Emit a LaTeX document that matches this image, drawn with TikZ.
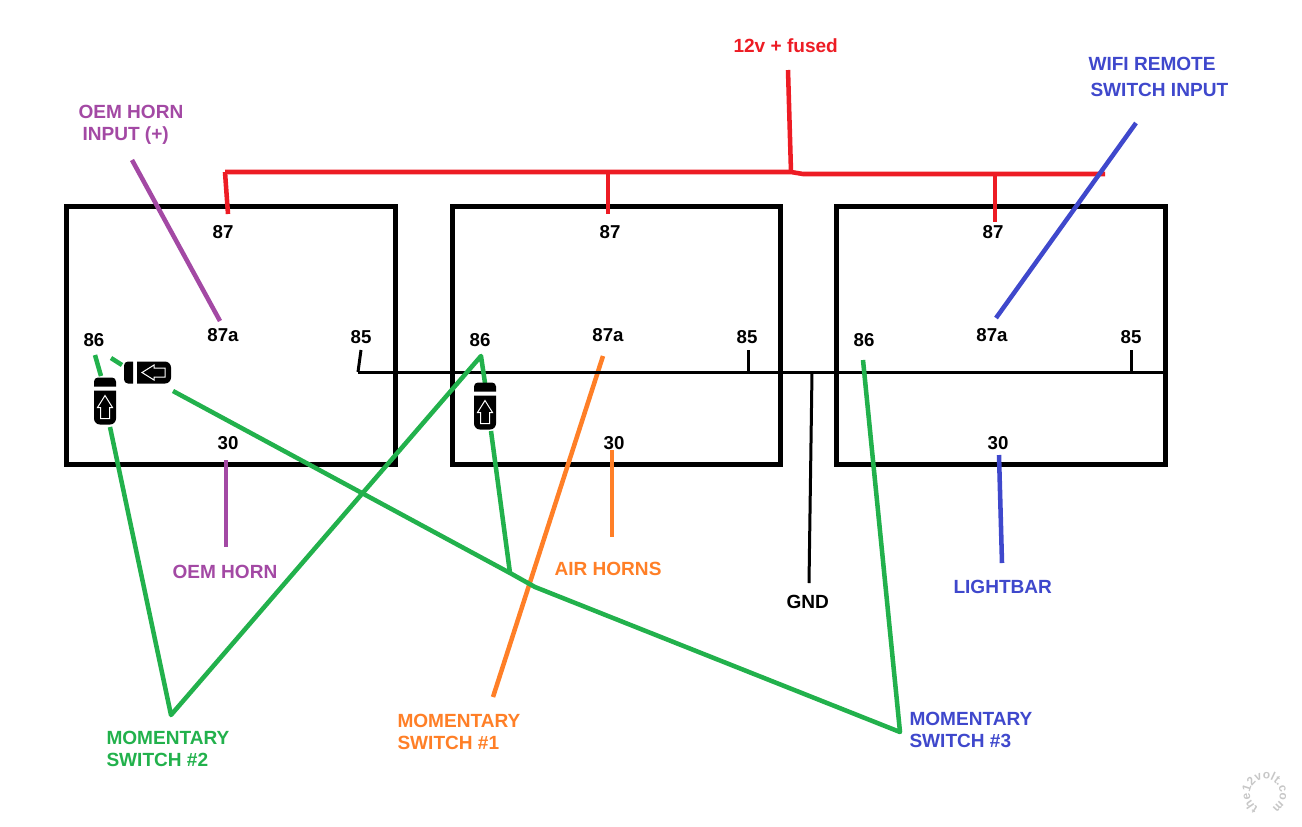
\documentclass[tikz,border=0pt]{standalone}
\usepackage{fontspec}
\setmainfont{Liberation Sans}
\usetikzlibrary{decorations.text}

\definecolor{wirered}{RGB}{237,28,36}
\definecolor{wireblue}{RGB}{63,72,204}
\definecolor{wiregreen}{RGB}{34,177,76}
\definecolor{wireorange}{RGB}{255,127,39}
\definecolor{wirepurple}{RGB}{163,73,164}

\tikzset{
  every picture/.style={line width=0.75pt},
  relaybox/.style={draw=black,line width=3.75pt,inner sep=0pt},
  pinlabel/.style={font=\fontsize{14pt}{16pt}\bfseries,inner sep=0.75pt,text=black},
  wirelabel/.style={font=\fontsize{14.3pt}{16.5pt}\bfseries,inner sep=0.75pt,anchor=west,align=left},
  wire/.style={line width=3.4pt,line join=round},
  gndwire/.style={line width=2.25pt},
  pushbutton/.pic={
    \fill[black] (-11,21) -- (11,21) -- (11,26) arc[start angle=0,end angle=90,radius=4] -- (-7,30) arc[start angle=90,end angle=180,radius=4] -- cycle;
    \fill[black] (-11,17) -- (11,17) -- (11,-11) arc[start angle=0,end angle=-90,radius=6] -- (-5,-17) arc[start angle=270,end angle=180,radius=6] -- cycle;
    \draw[white,line width=0.75pt] (0,12) -- (7.5,0) -- (4.5,0) -- (4.5,-11) -- (-4.5,-11) -- (-4.5,0) -- (-7.5,0) -- cycle;
  }
}

\begin{document}
\begin{tikzpicture}[x=0.75pt,y=0.75pt,yscale=-1,xscale=1]
\useasboundingbox (0,0) rectangle (1302,826);

%Relay boxes
\foreach \boxname/\xa/\xb in {relayA/66/395,relayB/452/780,relayC/836/1165}
  \draw[relaybox] (\xa,206) rectangle (\xb,464);

% Text Node
\node[pinlabel] (pinAe) at (223,232) {87};
\node[pinlabel] (pinBe) at (610,232) {87};
\node[pinlabel] (pinCe) at (993,232) {87};
\node[pinlabel] (pinAa) at (223,335) {87a};
\node[pinlabel] (pinBa) at (608,335) {87a};
\node[pinlabel] (pinCa) at (992,335) {87a};
\node[pinlabel] (pinAf) at (361,337) {85};
\node[pinlabel] (pinBf) at (747,337) {85};
\node[pinlabel] (pinCf) at (1131,337) {85};
\node[pinlabel] (pinAs) at (94,340) {86};
\node[pinlabel] (pinBs) at (480,340) {86};
\node[pinlabel] (pinCs) at (864,340) {86};
\node[pinlabel] (pinAt) at (228,443) {30};
\node[pinlabel] (pinBt) at (614,443) {30};
\node[pinlabel] (pinCt) at (998,443) {30};

% Text Node
\node[wirelabel,text=wirered] (fused) at (732,46) {12v + fused};
\node[wirelabel,text=wireblue] (wifiA) at (1087,64) {WIFI REMOTE};
\node[wirelabel,text=wireblue] (wifiB) at (1089,90) {SWITCH INPUT};
\node[wirelabel,text=wirepurple] (oemA) at (77,112) {OEM HORN};
\node[wirelabel,text=wirepurple] (oemB) at (81,136) {INPUT (+)};
\node[wirelabel,text=wirepurple] (oemhorn) at (171,572) {OEM HORN};
\node[wirelabel,text=wireorange] (airhorns) at (553,569) {AIR HORNS};
\node[wirelabel,text=wireblue] (lightbar) at (952,587) {LIGHTBAR};
\node[wirelabel,text=black] (gnd) at (785,602) {GND};
\node[wirelabel,text=wiregreen] (momtwo) at (105,749) {MOMENTARY\\SWITCH \#2};
\node[wirelabel,text=wireorange] (momone) at (396,732) {MOMENTARY\\SWITCH \#1};
\node[wirelabel,text=wireblue] (momthree) at (908,730) {MOMENTARY\\SWITCH \#3};

%Junction points
\coordinate (redtop) at (788,70);
\coordinate (redmid) at (791,172);
\coordinate (redleft) at (225,172);
\coordinate (redbend) at (803,174);
\coordinate (redright) at (1105,174);
\coordinate (gndA) at (358,372);
\coordinate (gndB) at (1165,372);
\coordinate (swtwo) at (171,715);
\coordinate (swone) at (493,697);
\coordinate (swthree) at (900,732);
\coordinate (greenknee) at (535,587);
\coordinate (greenjoin) at (510,573);
\coordinate (greenpeak) at (481,356);
\coordinate (greenstart) at (863,360);

%Red feed
\draw[wire,wirered] (redtop) -- (redmid);
\draw[wire,wirered] (redleft) -- (redmid) -- (redbend) -- (redright);
\draw[wire,wirered] (redleft) -- (228,214);
\draw[wire,wirered] (608,173) -- (608,214);
\draw[wire,wirered] (995,175) -- (995,222);

%Blue
\draw[wire,wireblue] (1136,123) -- (996,318);
\draw[wire,wireblue] (999,455) -- (1002,563);

%Purple
\draw[wire,wirepurple] (132,160) -- (220,321);
\draw[wire,wirepurple] (226,460) -- (226,547);

%Orange
\draw[wire,wireorange] (603,356) -- (swone);
\draw[wire,wireorange] (612,450) -- (612,537);

%Ground
\draw[gndwire] (gndA) -- (gndB);
\draw[gndwire] (361,350) -- (gndA);
\draw[gndwire] (748,350) -- (748,372);
\draw[gndwire] (1131,350) -- (1131,372);
\draw[gndwire] (812,372) -- (809,583);

%Green
\draw[wire,wiregreen] (95,355) -- (101,376);
\draw[wire,wiregreen] (111,358) -- (122,365);
\draw[wire,wiregreen] (110,427) -- (swtwo) -- (greenpeak) -- (485,383);
\draw[wire,wiregreen] (491,431) -- (greenjoin);
\draw[wire,wiregreen] (173,391) -- (greenjoin) -- (greenknee) -- (swthree) -- (greenstart);

%Switches
\pic at (105,407.5) {pushbutton};
\pic at (485,412.5) {pushbutton};
\pic[rotate=90] at (154,372.5) {pushbutton};

%Watermark
\begin{scope}[shift={(1265,794)},yscale=-1]
\path[postaction={decorate},decoration={text along path,text align=center,
  text={|\fontsize{9pt}{9pt}\bfseries\color{black!22}|the12volt.com}}]
  (-110:15) arc[start angle=-110,end angle=-430,radius=15];
\end{scope}

\end{tikzpicture}
\end{document}
